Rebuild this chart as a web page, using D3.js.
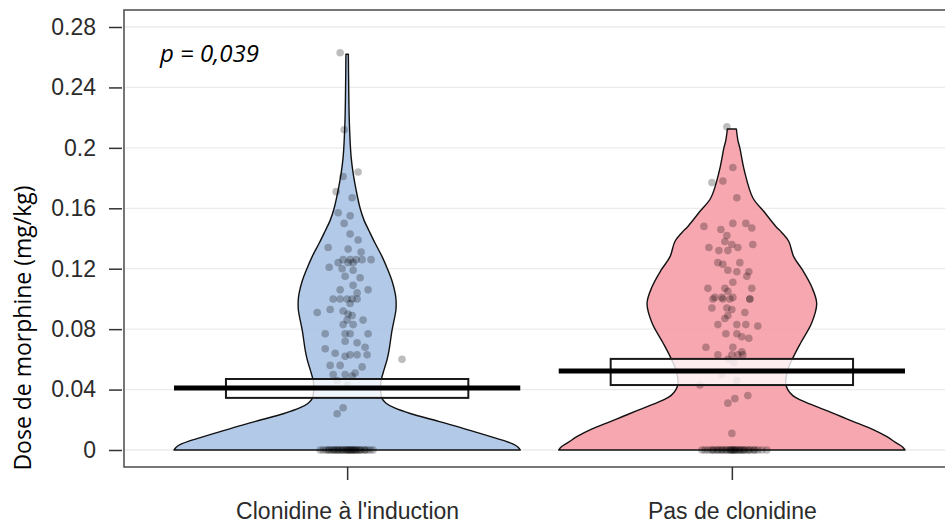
<!DOCTYPE html>
<html>
<head>
<meta charset="utf-8">
<script src="https://cdn.jsdelivr.net/npm/d3@7"></script>
<style>
  html, body { margin: 0; padding: 0; background: #fff; }
  svg { display: block; }
</style>
</head>
<body>
<svg id="chart" width="945" height="525"></svg>
<script>
// ---------------- DATA ----------------
const categories = ["Clonidine à l'induction", "Pas de clonidine"];
const yTickValues = [0, 0.04, 0.08, 0.12, 0.16, 0.2, 0.24, 0.28];
const yTickLabels = ["0", "0.04", "0.08", "0.12", "0.16", "0.2", "0.24", "0.28"];
const pLabel = "p = 0,039";
const yTitle = "Dose de morphine (mg/kg)";

// means and inference bands
const means = [0.041, 0.0523];
const bandLow = [0.0345, 0.043];
const bandHigh = [0.047, 0.0603];

// violin (bean) profiles: dose level and relative density (max = 100)
const bean1Levels = [0, 0.002, 0.004, 0.006, 0.008, 0.012, 0.016, 0.020, 0.024, 0.028, 0.031, 0.034, 0.040, 0.046, 0.053, 0.060, 0.066, 0.079, 0.093, 0.100, 0.104, 0.112, 0.119, 0.128, 0.137, 0.145, 0.152, 0.160, 0.172, 0.183, 0.194, 0.216, 0.240, 0.262];
const bean1Density = [100, 98.6, 95.7, 91.1, 85.3, 73.8, 62.2, 49.6, 36.9, 27.1, 22.5, 20.2, 19.3, 19.6, 21.3, 23.1, 24.2, 25.9, 28.2, 28.2, 27.7, 25.9, 23.6, 20.2, 16.1, 12.7, 9.8, 7.5, 5.2, 3.5, 2.3, 1.3, 0.9, 0.7];
const bean2Levels = [0, 0.002, 0.005, 0.009, 0.014, 0.018, 0.022, 0.026, 0.030, 0.033, 0.036, 0.040, 0.044, 0.053, 0.062, 0.071, 0.084, 0.097, 0.108, 0.119, 0.128, 0.138, 0.144, 0.148, 0.158, 0.167, 0.185, 0.200, 0.205, 0.2125];
const bean2Density = [100, 98.6, 94.5, 89.3, 80.7, 72.0, 63.4, 54.8, 46.1, 39.8, 35.2, 32.3, 31.1, 32.3, 35.7, 39.8, 46.1, 49.0, 46.1, 40.9, 35.7, 32.9, 28.8, 25.4, 18.4, 12.1, 7.2, 4.6, 3.5, 2.6];

const dose1 = [0.263, 0.212, 0.184, 0.181, 0.171, 0.167, 0.157, 0.155, 0.150, 0.143, 0.139, 0.134, 0.133, 0.131,
  0.126, 0.126, 0.126, 0.126, 0.126, 0.124, 0.124, 0.124, 0.121, 0.120, 0.119, 0.115, 0.114, 0.109, 0.106, 0.106,
  0.104, 0.100, 0.100, 0.100, 0.100, 0.100, 0.097, 0.093, 0.091, 0.092, 0.090, 0.089, 0.086, 0.086, 0.083, 0.083,
  0.077, 0.077, 0.077, 0.077, 0.072, 0.071, 0.068, 0.067, 0.064, 0.063, 0.063, 0.063, 0.062, 0.060, 0.056, 0.056,
  0.055, 0.051, 0.050, 0.050, 0.049, 0.046, 0.043, 0.028, 0.024,
  0, 0, 0, 0, 0, 0, 0, 0, 0, 0, 0, 0, 0, 0, 0, 0, 0, 0, 0, 0, 0, 0, 0, 0,
  0, 0, 0, 0, 0, 0, 0, 0, 0, 0, 0, 0];
const jitter1 = [-7, -3, 11, -4, -11, 5, -9, 3, -3, 3, 11, -19, 1, 14,
  -4, 3, 9, 15, 24, -9, 1, 6, -18, -5, 6, -2, 13, 6, -7, 21,
  10, -14, -7, 0, 5, 10, 3, -17, -30, -4, 1, 5, 0, 16, -4, 6,
  -22, -2, 3, 21, -2, 10, 18, -22, -12, 3, 10, 20, -2, 55, -17, -7,
  15, 8, -14, -2, 5, -10, 0, -4, -10,
  -27, -24, -21, -19, -16, -14, -12, -10, -8, -6, -4, -2, 0, 2, 4, 6, 8, 10, 12, 14, 17, 20, 23, 26,
  -18, -13, -9, -5, -1, 1, 3, 5, 7, 9, 13, 18];
const dose2 = [0.214, 0.187, 0.178, 0.177, 0.167, 0.148, 0.146, 0.150, 0.150, 0.147, 0.142, 0.134, 0.138, 0.136,
  0.134, 0.136, 0.132, 0.132, 0.124, 0.123, 0.124, 0.119, 0.118, 0.118, 0.115, 0.111, 0.107, 0.107, 0.105, 0.107,
  0.101, 0.101, 0.101, 0.100, 0.100, 0.100, 0.100, 0.100, 0.094, 0.094, 0.093, 0.091, 0.089, 0.087, 0.083, 0.083,
  0.083, 0.082, 0.077, 0.077, 0.075, 0.074, 0.068, 0.068, 0.065, 0.063, 0.063, 0.063, 0.063, 0.060, 0.058, 0.050,
  0.046, 0.043, 0.036, 0.034, 0.031, 0.011,
  0, 0, 0, 0, 0, 0, 0, 0, 0, 0, 0, 0, 0, 0, 0, 0, 0, 0, 0, 0, 0, 0, 0, 0,
  0, 0, 0, 0, 0, 0, 0, 0, 0, 0, 0, 0];
const jitter2 = [-5, 1, -9, -20, 5, -28, -11, 1, 14, 20, -5, -23, -7, 0,
  6, 21, -13, -4, -14, -9, 8, -4, 5, 17, 15, 1, -24, -7, -4, 20,
  -17, -10, 1, -19, -9, -2, 18, 18, -20, -5, 0, 13, -4, -7, -14, 5,
  14, 26, -6, 5, 10, 17, -26, 1, 10, -14, 0, 6, 11, -4, 2, -10,
  5, -32, 16, 3, -4, 0,
  -30, -27, -24, -21, -18, -15, -12, -9, -6, -3, -1, 1, 3, 5, 7, 9, 11, 13, 16, 19, 22, 26, 30, 35,
  -19, -14, -10, -6, -2, 0, 2, 4, 8, 12, 17, 23];

const beanColors = ["rgb(166,193,229)", "rgb(246,154,164)"];

// ---------------- CHART ----------------
const svg = d3.select("#chart");
const panel = { left: 124, right: 955, top: 10, bottom: 467 };

const y = d3.scaleLinear().domain([0, 0.28]).range([450, 27]);
const x = d3.scalePoint().domain(categories).range([panel.left, panel.right]).padding(0.58);
const halfW = x.step() * 0.45;
const densScale = d3.scaleLinear().domain([0, 100]).range([0, halfW]);
const jitterScale = d3.scaleLinear().domain([-173.5, 173.5]).range([-halfW, halfW]);
const boxHalf = halfW * 0.7;

// gridlines
svg.append("g").selectAll("line").data(yTickValues).join("line")
  .attr("x1", panel.left).attr("x2", panel.right)
  .attr("y1", d => y(d)).attr("y2", d => y(d))
  .attr("stroke", "#ebebeb").attr("stroke-width", 1.3);

const beans = [
  { levels: bean1Levels, dens: bean1Density },
  { levels: bean2Levels, dens: bean2Density }
];

// violins
beans.forEach((b, i) => {
  const cx = x(categories[i]);
  const pts = b.levels.map((v, k) => [v, b.dens[k]]);
  const area = d3.area()
    .curve(d3.curveCatmullRom.alpha(0.5))
    .y(d => y(d[0]))
    .x0(d => cx - densScale(d[1]))
    .x1(d => cx + densScale(d[1]));
  svg.append("path").attr("d", area(pts))
    .attr("fill", beanColors[i]).attr("fill-opacity", 0.87)
    .attr("stroke", "#111").attr("stroke-width", 1.4).attr("stroke-linejoin", "round");
});

// points
const groups = [
  { dose: dose1, jit: jitter1 },
  { dose: dose2, jit: jitter2 }
];
groups.forEach((g, i) => {
  const cx = x(categories[i]);
  svg.append("g").selectAll("circle").data(g.dose).join("circle")
    .attr("cx", (d, k) => cx + jitterScale(g.jit[k]))
    .attr("cy", d => y(d))
    .attr("r", 3.8)
    .attr("fill", "#000").attr("fill-opacity", 0.26);
});

// inference bands
categories.forEach((c, i) => {
  const cx = x(c);
  svg.append("rect")
    .attr("x", cx - boxHalf).attr("width", boxHalf * 2)
    .attr("y", y(bandHigh[i])).attr("height", y(bandLow[i]) - y(bandHigh[i]))
    .attr("fill", "#fff").attr("fill-opacity", 0.8)
    .attr("stroke", "#1a1a1a").attr("stroke-width", 2);
});

// mean lines
categories.forEach((c, i) => {
  const cx = x(c);
  svg.append("line")
    .attr("x1", cx - halfW).attr("x2", cx + halfW)
    .attr("y1", y(means[i])).attr("y2", y(means[i]))
    .attr("stroke", "#000").attr("stroke-width", 5);
});

// panel border
svg.append("rect")
  .attr("x", panel.left).attr("y", panel.top)
  .attr("width", panel.right - panel.left).attr("height", panel.bottom - panel.top)
  .attr("fill", "none").attr("stroke", "#555").attr("stroke-width", 1.6);

// axes
const axisFont = "'Liberation Sans', Arial, Helvetica, sans-serif";
const yAxis = svg.append("g").attr("transform", `translate(${panel.left - 2},0)`)
  .call(d3.axisLeft(y).tickValues(yTickValues).tickFormat((d, i) => yTickLabels[i]).tickSize(13).tickPadding(13));
const xAxis = svg.append("g").attr("transform", `translate(0,${panel.bottom})`)
  .call(d3.axisBottom(x).tickSize(13).tickPadding(23));
[yAxis, xAxis].forEach(a => {
  a.select(".domain").remove();
  a.selectAll(".tick line").attr("stroke", "#333").attr("stroke-width", 1.5);
  a.selectAll(".tick text").attr("fill", "#2b2b2b")
    .style("font-family", axisFont).style("font-size", "23px");
});

// y title
svg.append("text")
  .attr("transform", "translate(31,328) rotate(-90)")
  .attr("text-anchor", "middle")
  .style("font-family", "'Open Sans', 'Noto Sans', sans-serif")
  .style("font-size", "23px")
  .attr("fill", "#000")
  .text(yTitle);

// p-value
svg.append("text")
  .attr("x", 160).attr("y", 62)
  .style("font-family", "'Open Sans', 'Noto Sans', sans-serif")
  .style("font-size", "24px").style("font-style", "italic")
  .attr("fill", "#000")
  .text(pLabel);
</script>
</body>
</html>
